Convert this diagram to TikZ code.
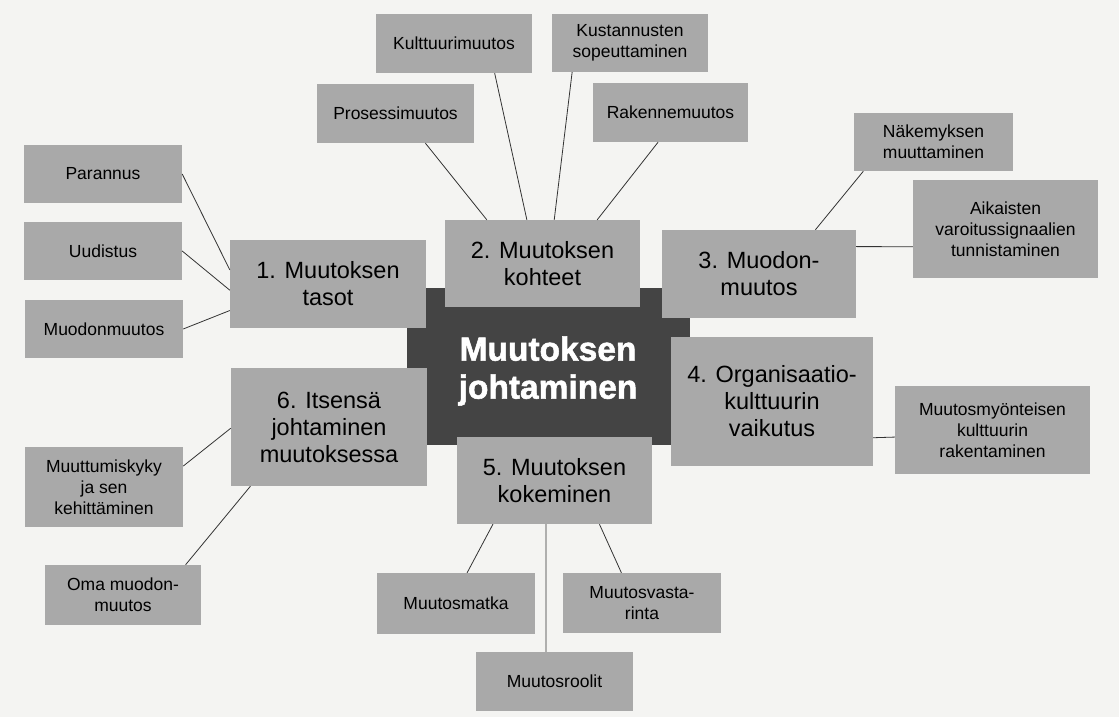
\documentclass[tikz,border=0pt]{standalone}
\usepackage{fontspec}
\setmainfont{Liberation Sans}
\newfontfamily\hubfont[FakeBold=1.6]{Liberation Sans Bold}
\usetikzlibrary{calc}
\definecolor{pagebg}{HTML}{F4F4F2}
\definecolor{boxgray}{HTML}{A9A9A9}
\definecolor{hubdark}{HTML}{444444}
\definecolor{linkgray}{HTML}{333333}
\begin{document}
\begin{tikzpicture}[x=1pt,y=-1pt,
  leaf/.style={fill=boxgray, inner sep=0pt, align=center, text=black,
    font=\fontsize{17.5}{21}\selectfont},
  topic/.style={fill=boxgray, inner sep=0pt, align=center, text=black,
    font=\fontsize{23.5}{27}\selectfont},
  hub/.style={fill=hubdark, inner sep=0pt},
  hubtext/.style={text=white, align=center, inner sep=0pt,
    font=\fontsize{33.5}{38}\hubfont},
  link/.style={draw=linkgray, line width=0.8pt}]
\useasboundingbox (0,0) rectangle (1119,717);
\fill[pagebg] (0,0) rectangle (1119,717);

% central dark box
\node[hub, minimum width=283, minimum height=157] (hub) at (548.5,366.5) {};

% main topic boxes
\node[topic, minimum width=196, minimum height=88] (t1) at (328,284) {1. Muutoksen\\tasot};
\node[topic, minimum width=195, minimum height=87] (t2) at (542.5,263.5) {2. Muutoksen\\kohteet};
\node[topic, minimum width=194, minimum height=88] (t3) at (759,274) {3. Muodon-\\muutos};
\node[topic, minimum width=202, minimum height=129] (t4) at (772,401.5) {4. Organisaatio-\\kulttuurin\\vaikutus};
\node[topic, minimum width=195, minimum height=87] (t5) at (554.5,480.5) {5. Muutoksen\\kokeminen};
\node[topic, minimum width=196, minimum height=118] (t6) at (329,427) {6. Itsensä\\johtaminen\\muutoksessa};

\node[hubtext] (hubt) at (548,371) {Muutoksen\\johtaminen};

% leaf boxes
\node[leaf, minimum width=158, minimum height=58] (p1) at (103,174) {Parannus};
\node[leaf, minimum width=158, minimum height=58] (p2) at (103,251) {Uudistus};
\node[leaf, minimum width=158, minimum height=58] (p3) at (104,329) {Muodonmuutos};

\node[leaf, minimum width=157, minimum height=59] (k1) at (395.5,113.5) {Prosessimuutos};
\node[leaf, minimum width=156, minimum height=59] (k2) at (454,43.5) {Kulttuurimuutos};
\node[leaf, minimum width=156, minimum height=58] (k3) at (630,43) {Kustannusten\\sopeuttaminen};
\node[leaf, minimum width=155, minimum height=59] (k4) at (670.5,112.5) {Rakennemuutos};

\node[leaf, minimum width=159, minimum height=58] (n1) at (933.5,142) {Näkemyksen\\muuttaminen};
\node[leaf, minimum width=185, minimum height=98] (n2) at (1005.5,229) {Aikaisten\\varoitussignaalien\\tunnistaminen};

\node[leaf, minimum width=195, minimum height=88] (m1) at (992.5,430) {Muutosmyönteisen\\kulttuurin\\rakentaminen};

\node[leaf, minimum width=158, minimum height=61] (s1) at (456,603.5) {Muutosmatka};
\node[leaf, minimum width=157, minimum height=59] (s2) at (554.5,681.5) {Muutosroolit};
\node[leaf, minimum width=158, minimum height=60] (s3) at (642,603) {Muutosvasta-\\rinta};

\node[leaf, minimum width=158, minimum height=80] (o1) at (104,487) {Muuttumiskyky\\ja sen\\kehittäminen};
\node[leaf, minimum width=156, minimum height=60] (o2) at (123,595) {Oma muodon-\\muutos};

% connectors
\draw[link] (p1.east) -- ($(t1.north west)!0.34!(t1.south west)$);
\draw[link] (p2.east) -- ($(t1.north west)!0.57!(t1.south west)$);
\draw[link] (p3.east) -- ($(t1.north west)!0.80!(t1.south west)$);

\draw[link] ($(k1.south west)!0.69!(k1.south east)$) -- ($(t2.north west)!0.215!(t2.north east)$);
\draw[link] ($(k2.south west)!0.76!(k2.south east)$) -- ($(t2.north west)!0.42!(t2.north east)$);
\draw[link] ($(k3.south west)!0.13!(k3.south east)$) -- ($(t2.north west)!0.56!(t2.north east)$);
\draw[link] ($(k4.south west)!0.42!(k4.south east)$) -- ($(t2.north west)!0.78!(t2.north east)$);

\draw[link] ($(t3.north west)!0.79!(t3.north east)$) -- ($(n1.south west)!0.06!(n1.south east)$);
\draw[link] ($(t3.north east)!0.19!(t3.south east)$) -- ($(n2.north west)!0.68!(n2.south west)$);

\draw[link] ($(t4.north east)!0.78!(t4.south east)$) -- ($(m1.north west)!0.58!(m1.south west)$);

\draw[link] ($(t5.south west)!0.185!(t5.south east)$) -- ($(s1.north west)!0.57!(s1.north east)$);
\draw[link] ($(t5.south west)!0.456!(t5.south east)$) -- ($(s2.north west)!0.446!(s2.north east)$);
\draw[link] ($(t5.south west)!0.73!(t5.south east)$) -- ($(s3.north west)!0.37!(s3.north east)$);

\draw[link] ($(t6.north west)!0.51!(t6.south west)$) -- ($(o1.north east)!0.24!(o1.south east)$);
\draw[link] ($(t6.south west)!0.10!(t6.south east)$) -- ($(o2.north west)!0.90!(o2.north east)$);
\end{tikzpicture}
\end{document}
